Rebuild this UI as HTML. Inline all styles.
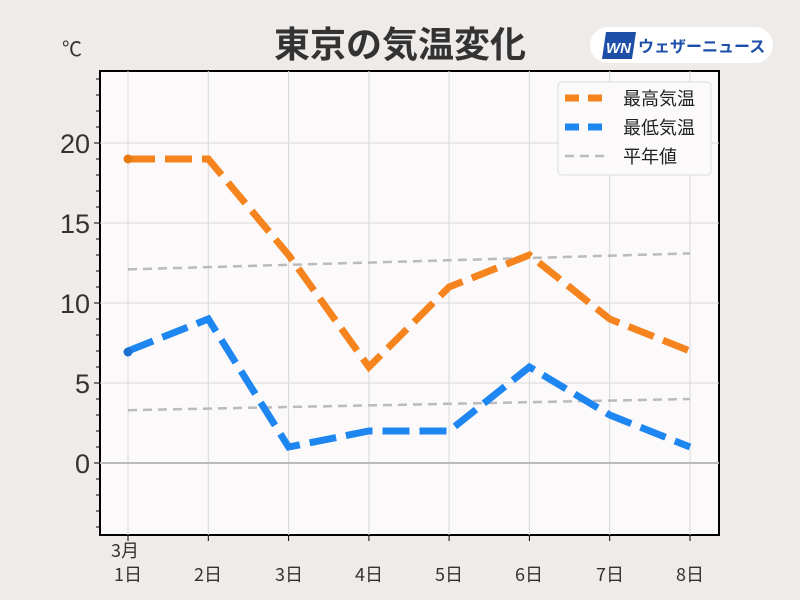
<!DOCTYPE html>
<html><head><meta charset="utf-8"><style>
body{margin:0;background:#eeebe9;}
svg{display:block;font-family:"Liberation Sans","Noto Sans CJK JP",sans-serif;}
</style></head><body>
<svg width="800" height="600" viewBox="0 0 800 600">
<rect width="800" height="600" fill="#eeebe9"/>
<text x="400" y="57" text-anchor="middle" font-size="36" font-weight="bold" fill="#333" font-family="'Noto Sans CJK JP',sans-serif">東京の気温変化</text>
<rect x="590" y="27" width="183" height="36" rx="18" fill="#fff"/>
<polygon points="606,32 636,32 632,59 602,59" fill="#1d4fa8"/>
<text x="606" y="53" font-size="15" font-weight="bold" font-style="italic" fill="#fff">WN</text>
<text x="638" y="52" font-size="16" font-weight="bold" fill="#1d4fa8" font-family="'Noto Sans CJK JP',sans-serif">ウェザーニュース</text>
<text x="62" y="56" font-size="20" fill="#333">℃</text>
<rect x="100" y="71" width="619" height="464" fill="#fbf9fa" stroke="#000" stroke-width="2"/>
<g stroke="#d8d8d8" stroke-width="1">
<line x1="128" y1="71" x2="128" y2="535"/><line x1="208.3" y1="71" x2="208.3" y2="535"/><line x1="288.6" y1="71" x2="288.6" y2="535"/><line x1="368.9" y1="71" x2="368.9" y2="535"/><line x1="449.1" y1="71" x2="449.1" y2="535"/><line x1="529.4" y1="71" x2="529.4" y2="535"/><line x1="609.7" y1="71" x2="609.7" y2="535"/><line x1="690" y1="71" x2="690" y2="535"/>
<line x1="100" y1="143" x2="719" y2="143"/><line x1="100" y1="223" x2="719" y2="223"/><line x1="100" y1="303" x2="719" y2="303"/><line x1="100" y1="383" x2="719" y2="383"/>
</g>
<line x1="100" y1="463" x2="719" y2="463" stroke="#bbb" stroke-width="2"/>
<g stroke="#000" stroke-width="1">
<line x1="94" y1="143" x2="100" y2="143"/><line x1="94" y1="223" x2="100" y2="223"/><line x1="94" y1="303" x2="100" y2="303"/><line x1="94" y1="383" x2="100" y2="383"/><line x1="94" y1="463" x2="100" y2="463"/>
</g>
<g stroke="#000" stroke-width="1" id="minor"></g>
<g font-size="27" fill="#333" text-anchor="end">
<text x="90" y="153">20</text><text x="90" y="233">15</text><text x="90" y="313">10</text><text x="90" y="393">5</text><text x="90" y="473">0</text>
</g>
<g stroke="#000"><line x1="128" y1="535" x2="128" y2="541"/><line x1="208.3" y1="535" x2="208.3" y2="541"/><line x1="288.6" y1="535" x2="288.6" y2="541"/><line x1="368.9" y1="535" x2="368.9" y2="541"/><line x1="449.1" y1="535" x2="449.1" y2="541"/><line x1="529.4" y1="535" x2="529.4" y2="541"/><line x1="609.7" y1="535" x2="609.7" y2="541"/><line x1="690" y1="535" x2="690" y2="541"/></g>
<g font-size="18" fill="#333" text-anchor="middle" font-family="'Noto Sans CJK JP',sans-serif">
<text x="125" y="557">3月</text>
<text x="128" y="581">1日</text><text x="208" y="581">2日</text><text x="289" y="581">3日</text><text x="369" y="581">4日</text><text x="449" y="581">5日</text><text x="529" y="581">6日</text><text x="610" y="581">7日</text><text x="690" y="581">8日</text>
</g>
<line x1="128" y1="269.4" x2="690" y2="253.4" stroke="#bbb" stroke-width="2.5" stroke-dasharray="9,6"/>
<line x1="128" y1="410.2" x2="690" y2="399" stroke="#bbb" stroke-width="2.5" stroke-dasharray="9,6"/>
<polyline points="128,159 208.3,159 288.6,255 368.9,367 449.1,287 529.4,255 609.7,319 690,351" fill="none" stroke="#f5841f" stroke-width="7" stroke-dasharray="27,10"/>
<polyline points="128,351 208.3,319 288.6,447 368.9,431 449.1,431 529.4,367 609.7,415 690,447" fill="none" stroke="#1e86f0" stroke-width="7" stroke-dasharray="27,10"/>
<circle cx="128" cy="159" r="4.5" fill="#e87a10"/>
<circle cx="128" cy="352" r="4.5" fill="#1a6fd0"/>
<rect x="558" y="82" width="153" height="93" rx="4" fill="#fbf9fa" stroke="#ddd"/>
<line x1="565" y1="98" x2="607" y2="98" stroke="#f5841f" stroke-width="7" stroke-dasharray="14,9"/>
<line x1="565" y1="127" x2="607" y2="127" stroke="#1e86f0" stroke-width="7" stroke-dasharray="14,9"/>
<line x1="565" y1="156" x2="607" y2="156" stroke="#bbb" stroke-width="2.5" stroke-dasharray="9,6"/>
<g font-size="18" fill="#222" font-family="'Noto Sans CJK JP',sans-serif">
<text x="623" y="105">最高気温</text><text x="623" y="134">最低気温</text><text x="623" y="163">平年値</text>
</g>
<script>
var g=document.getElementById('minor');for(var v=-4;v<=24;v++){if(v%5==0)continue;var y=463-16*v;var l=document.createElementNS('http://www.w3.org/2000/svg','line');l.setAttribute('x1',96);l.setAttribute('x2',100);l.setAttribute('y1',y);l.setAttribute('y2',y);g.appendChild(l);}
</script>
</svg>
</body></html>
